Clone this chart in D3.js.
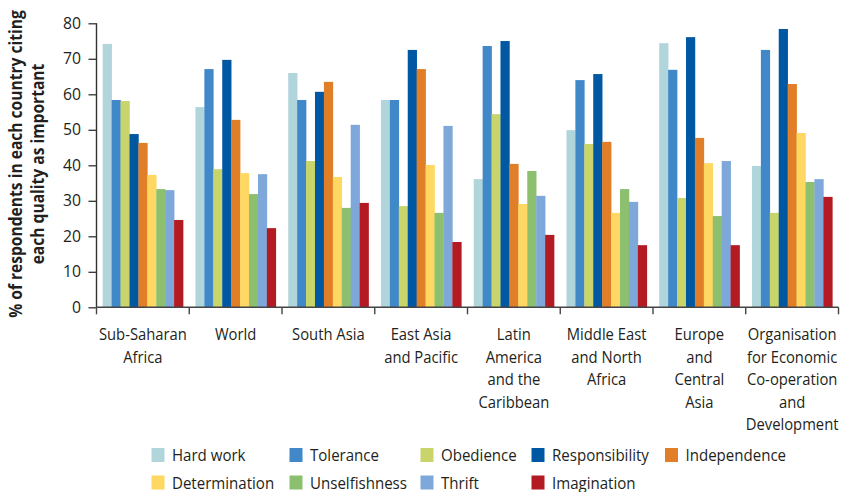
<!DOCTYPE html>
<html><head><meta charset="utf-8">
<script src="https://cdn.jsdelivr.net/npm/d3@7"></script>
<style>
body{margin:0;background:#fff;}
svg{display:block;}
text{font-family:"Open Sans","Noto Sans",sans-serif;fill:#231f20;}
</style></head>
<body>
<svg id="chart" width="841" height="492"></svg>
<script>
const categories = ["Sub-Saharan Africa","World","South Asia","East Asia and Pacific","Latin America and the Caribbean","Middle East and North Africa","Europe and Central Asia","Organisation for Economic Co-operation and Development"];
const categoryLines = [["Sub-Saharan","Africa"],["World"],["South Asia"],["East Asia","and Pacific"],["Latin","America","and the","Caribbean"],["Middle East","and North","Africa"],["Europe","and","Central","Asia"],["Organisation","for Economic","Co-operation","and","Development"]];
const series = ["Hard work","Tolerance","Obedience","Responsibility","Independence","Determination","Unselfishness","Thrift","Imagination"];
const colors = ["#b0d5db","#4088c8","#c9d46a","#0058a2","#e07f27","#fed862","#8cc06f","#7fa8da","#b41a22"];
const hardWork       = [74.2,56.4,66.0,58.4,36.1,49.9,74.4,39.8];
const tolerance      = [58.4,67.1,58.4,58.4,73.6,64.0,66.9,72.5];
const obedience      = [58.1,38.9,41.2,28.5,54.4,46.0,30.8,26.6];
const responsibility = [48.8,69.7,60.7,72.5,75.0,65.7,76.1,78.4];
const independence   = [46.3,52.8,63.5,67.1,40.4,46.6,47.7,62.9];
const determination  = [37.3,37.8,36.7,40.1,29.1,26.6,40.6,49.1];
const unselfishness  = [33.3,31.9,28.0,26.6,38.4,33.3,25.7,35.3];
const thrift         = [33.0,37.5,51.4,51.1,31.4,29.7,41.2,36.1];
const imagination    = [24.6,22.3,29.4,18.4,20.4,17.5,17.5,31.1];
const yTicks = [0,10,20,30,40,50,60,70,80];
const yTitle = ["% of respondents in each country citing","each quality as important"];

const values = [hardWork,tolerance,obedience,responsibility,independence,determination,unselfishness,thrift,imagination];

const svg = d3.select("#chart");

// measure helper for horizontal condensing (reference uses a condensed face)
function measure(str, size, weight){
  const t = svg.append("text").style("font-size",size+"px").style("font-weight",weight||"normal").text(str);
  const w = t.node().getComputedTextLength(); t.remove(); return w;
}
const kCat = 88 / measure("Sub-Saharan", 17);
const kLeg = 97 / measure("Responsibility", 17);
const kTitle = 308 / measure(yTitle[0], 17.5, "bold");
const kTick = 18 / measure("80", 16);

const x0 = d3.scaleBand().domain(categories).range([96.5,838.5]).padding(0);
const bw = x0.bandwidth();
const x1 = d3.scaleBand().domain(series).range([6.2, bw-6.2]).padding(0);
const y = d3.scaleLinear().domain([0,80]).range([307.3,23.3]);

// bars
const g = svg.append("g");
categories.forEach((c,ci)=>{
  const cg = g.append("g").attr("transform",`translate(${x0(c)},0)`);
  series.forEach((s,si)=>{
    const v = values[si][ci];
    cg.append("rect")
      .attr("x", x1(s)).attr("width", x1.bandwidth()+0.3)
      .attr("y", y(v)).attr("height", y(0)-y(v))
      .attr("fill", colors[si]);
  });
});

// y axis
const yAxis = d3.axisLeft(y).tickValues(yTicks).tickSize(8).tickPadding(7);
const ya = svg.append("g").attr("transform","translate(96.5,0)").call(yAxis);
ya.select(".domain").attr("stroke","#333").attr("stroke-width",1.4).attr("d","M0,23.3V307.3");
ya.selectAll(".tick line").attr("stroke","#333").attr("stroke-width",1.3);
ya.selectAll(".tick text").style("font-size","16px").style("fill","#231f20")
  .attr("x",null).attr("text-anchor","end")
  .attr("transform",`translate(-15.5,0) scale(${kTick},1)`);

// x axis
const xa = svg.append("g").attr("transform","translate(0,307.3)");
xa.append("line").attr("x1",96.5).attr("x2",838.5).attr("stroke","#444").attr("stroke-width",1.6);
const bounds = categories.map(c=>x0(c)).concat([x0(categories[categories.length-1])+bw]);
xa.selectAll(".xt").data(bounds).join("line")
  .attr("x1",d=>d).attr("x2",d=>d).attr("y1",0).attr("y2",7)
  .attr("stroke","#444").attr("stroke-width",1.4);

categories.forEach((c,ci)=>{
  const t = svg.append("text").attr("text-anchor","middle").style("font-size","17px")
    .attr("transform",`translate(${x0(c)+bw/2},0) scale(${kCat},1)`);
  categoryLines[ci].forEach((ln,li)=>{
    t.append("tspan").attr("x", 0).attr("y", 340.5 + li*22.5).text(ln);
  });
});

// y title
const yt = svg.append("text").attr("transform",`translate(0,164) rotate(-90) scale(${kTitle},1)`)
  .attr("text-anchor","middle").style("font-size","17.5px").style("font-weight","bold");
yTitle.forEach((ln,li)=>{
  yt.append("tspan").attr("x",0).attr("y", 22.5 + li*21.5).text(ln);
});

// legend
const legSw = [151.5,289.5,420.5,531.5,665];
const legTx = [172,310,441,552,685.5];
const legRows = [455,482.5];
series.forEach((s,i)=>{
  const row = i<5?0:1, col = i<5?i:i-5;
  svg.append("rect").attr("x",legSw[col]).attr("y",legRows[row]-7).attr("width",13).attr("height",14).attr("fill",colors[i]);
  svg.append("text").attr("transform",`translate(${legTx[col]},${legRows[row]+6}) scale(${kLeg},1)`)
    .style("font-size","17px").text(s);
});
</script>
</body></html>
